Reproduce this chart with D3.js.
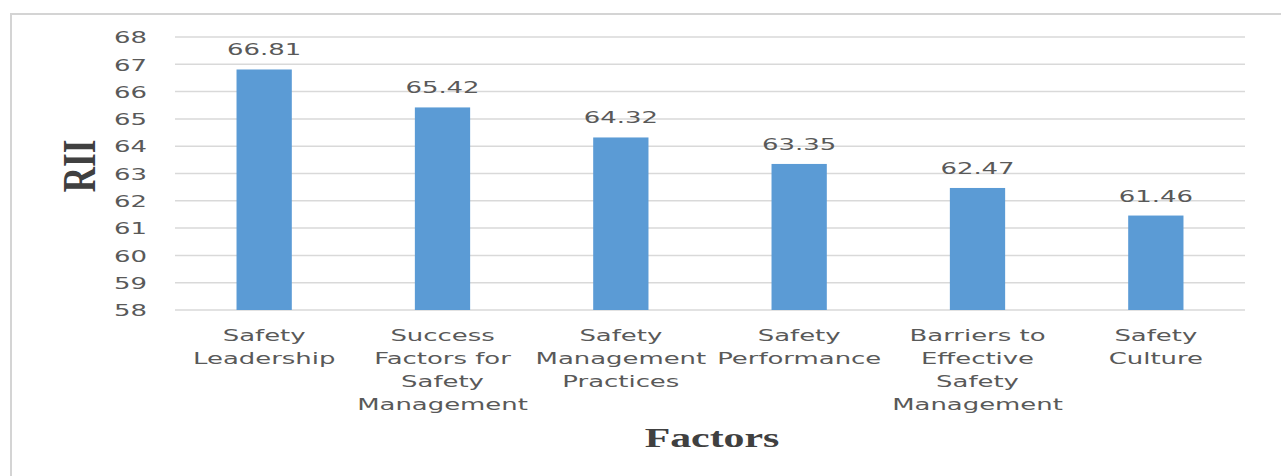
<!DOCTYPE html>
<html>
<head>
<meta charset="utf-8">
<script src="https://cdn.jsdelivr.net/npm/d3@7/dist/d3.min.js"></script>
<style>
  html, body { margin: 0; padding: 0; background: #fff; }
  svg { display: block; }
</style>
</head>
<body>
<svg id="chart" width="1281" height="476"></svg>
<script>
const categories = [
  "Safety Leadership",
  "Success Factors for Safety Management",
  "Safety Management Practices",
  "Safety Performance",
  "Barriers to Effective Safety Management",
  "Safety Culture"
];
const categoryLines = [
  ["Safety", "Leadership"],
  ["Success", "Factors for", "Safety", "Management"],
  ["Safety", "Management", "Practices"],
  ["Safety", "Performance"],
  ["Barriers to", "Effective", "Safety", "Management"],
  ["Safety", "Culture"]
];
const values = [66.81, 65.42, 64.32, 63.35, 62.47, 61.46];
const yTicks = [58, 59, 60, 61, 62, 63, 64, 65, 66, 67, 68];
const yTitle = "RII";
const xTitle = "Factors";

const S = 1.62; // horizontal stretch of the source image
const svg = d3.select("#chart");
const textColor = "#595959";
const sans = "'DejaVu Sans', sans-serif";
const serif = "'Liberation Serif', 'Times New Roman', serif";

// outer chart border
svg.append("path")
  .attr("d", "M11,476 V14 H1281")
  .attr("fill", "none").attr("stroke", "#d4d4d4").attr("stroke-width", 2);

const x = d3.scaleBand().domain(categories).range([175, 1245])
  .paddingInner(0.69).paddingOuter(0.345);
const y = d3.scaleLinear().domain([58, 68]).range([310, 37]);

// grid lines
svg.append("g").selectAll("line").data(yTicks).join("line")
  .attr("x1", 175).attr("x2", 1245)
  .attr("y1", d => y(d)).attr("y2", d => y(d))
  .attr("stroke", "#d9d9d9").attr("stroke-width", 1.5);

// y axis labels
const yAxis = svg.append("g").attr("transform", "translate(175,0)")
  .call(d3.axisLeft(y).tickValues(yTicks).tickSize(0).tickPadding(0).tickFormat(d3.format("d")));
yAxis.select(".domain").remove();
yAxis.selectAll("text")
  .attr("x", null).attr("dy", "0.36em")
  .attr("transform", `translate(-28,0) scale(${S},1)`)
  .attr("fill", textColor).style("font-family", sans).style("font-size", "16px");

// bars
svg.append("g").selectAll("rect").data(values).join("rect")
  .attr("x", (d, i) => x(categories[i]))
  .attr("width", x.bandwidth())
  .attr("y", d => y(d))
  .attr("height", d => y(58) - y(d))
  .attr("fill", "#5B9BD5");

// value labels
svg.append("g").selectAll("text").data(values).join("text")
  .attr("transform", (d, i) => `translate(${x(categories[i]) + x.bandwidth() / 2},${y(d) - 14}) scale(${S},1)`)
  .attr("text-anchor", "middle")
  .attr("fill", textColor).style("font-family", sans).style("font-size", "16px")
  .text(d => d.toFixed(2));

// category labels
const catG = svg.append("g").selectAll("text").data(categoryLines).join("text")
  .attr("transform", (d, i) => `translate(${x(categories[i]) + x.bandwidth() / 2},341) scale(${S},1)`)
  .attr("text-anchor", "middle")
  .attr("fill", textColor).style("font-family", sans).style("font-size", "16px");
catG.selectAll("tspan").data(d => d).join("tspan")
  .attr("x", 0).attr("y", (d, j) => j * 23)
  .text(d => d);

// y title
svg.append("text")
  .attr("transform", `translate(95,166) scale(1.3,1) rotate(-90)`)
  .attr("text-anchor", "middle")
  .attr("fill", "#404040").style("font-family", serif).style("font-weight", "bold").style("font-size", "35px")
  .text(yTitle);

// x title
svg.append("text")
  .attr("transform", `translate(712,447) scale(1.55,1)`)
  .attr("text-anchor", "middle")
  .attr("fill", "#404040").style("font-family", serif).style("font-weight", "bold").style("font-size", "27px")
  .text(xTitle);
</script>
</body>
</html>
